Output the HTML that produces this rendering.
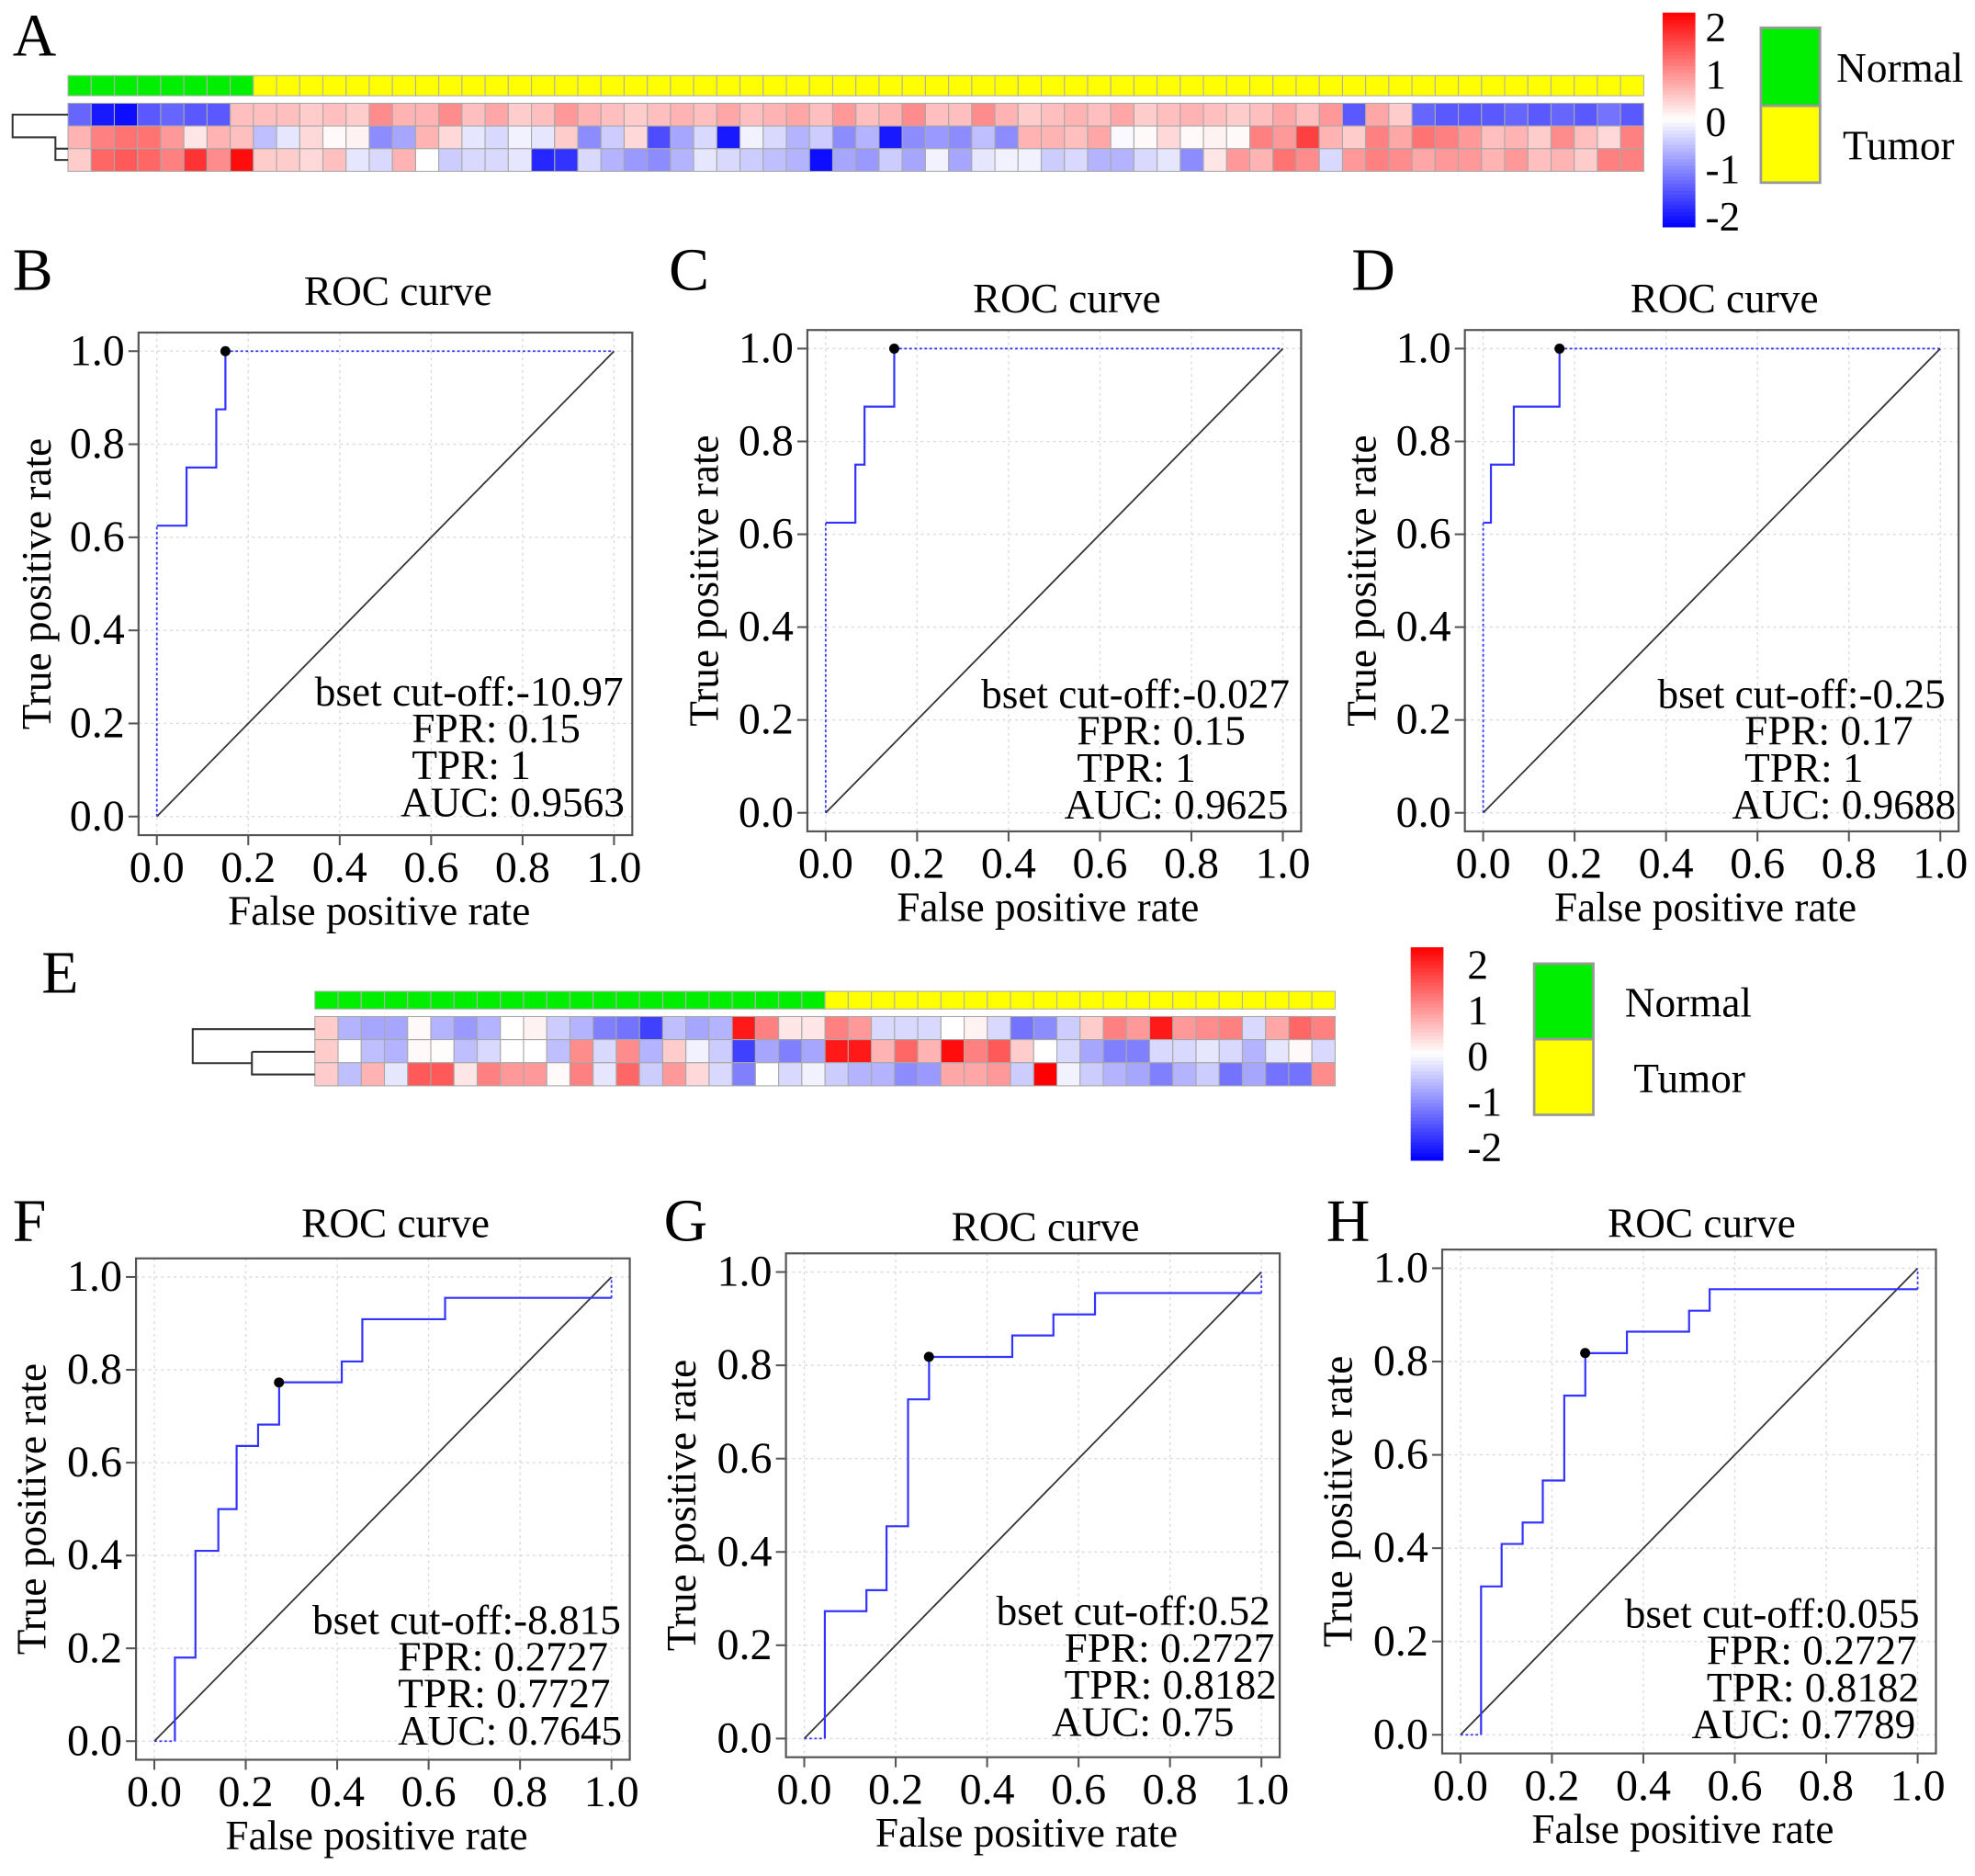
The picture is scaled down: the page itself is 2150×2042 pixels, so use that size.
<!DOCTYPE html>
<html><head><meta charset="utf-8"><style>
html,body{margin:0;padding:0;background:#fff;}
svg{display:block;font-family:"Liberation Serif",serif;}
</style></head><body>
<svg id="fig" width="2150" height="2042" viewBox="0 0 1568 1489.3" preserveAspectRatio="none" xmlns="http://www.w3.org/2000/svg"></svg>
<script>
// ---------- Heatmap data ----------
const groupsA = [8, 60]; // normal, tumor column counts
const rowA1 = [-1.2,-1.8,-1.9,-1.3,-1.2,-1.3,-1.3,0.5,
 0.5,0.5,0.4,0.5,0.4,0.9,0.6,0.6,0.9,0.5,0.7,0.4,0.5,0.8,0.6,0.5,0.4,0.5,0.6,0.5,0.7,0.5,0.6,0.7,0.5,0.8,0.5,0.6,0.9,0.5,0.5,0.9,0.6,0.4,0.5,0.6,0.5,0.7,0.4,0.5,0.6,0.5,0.4,0.5,0.7,0.5,0.8,-1.3,0.7,0.4,-1.2,-1.3,-1.3,-1.3,-1.2,-1.3,-1.2,-1.3,-1.1,-1.3];
const rowA2 = [0.6,1.0,1.1,1.1,0.8,0.2,0.6,0.5,
 -0.5,-0.2,0.3,0.05,0.1,-0.9,-0.7,0.6,0.3,-0.2,-0.3,-0.1,-0.2,0.4,-0.9,-0.4,0.3,-1.4,-0.7,-0.3,-1.8,-0.1,-0.3,-0.6,-0.4,-0.9,-0.6,-1.8,-0.9,-0.8,-0.9,-0.5,-0.9,0.6,0.6,0.5,0.7,-0.05,0.05,0.3,0.05,0.1,0.05,1.0,0.8,1.5,0.6,0.4,1.0,0.7,1.1,1.0,0.8,0.5,0.6,0.4,0.9,0.5,0.3,1.0];
const rowA3 = [0.4,1.2,1.3,1.2,1.0,1.6,0.9,1.9,
 0.4,0.4,0.3,0.5,-0.2,-0.3,0.6,0.0,-0.4,-0.3,-0.3,-0.2,-1.7,-1.6,-0.3,-0.6,-0.8,-0.9,-0.6,-0.2,-0.3,-0.4,-0.5,-0.6,-1.9,-0.7,-0.8,-0.4,-0.7,-0.1,-0.7,-0.2,-0.1,-0.1,-0.4,-0.3,-0.6,-0.6,-0.3,-0.2,-0.9,0.2,0.8,0.6,1.1,0.9,-0.3,0.8,1.0,0.9,0.7,0.8,0.8,0.6,0.8,0.5,0.6,0.4,1.0,1.0];
const groupsE = [22, 22];
const rowE1 = [0.4,-0.6,-0.7,-0.7,0.05,-0.6,-0.8,-0.6,0,0.1,-0.4,-0.6,-1.0,-1.1,-1.5,-0.5,-0.7,-0.6,1.8,1.0,0.2,0.2,
 1.0,0.8,-0.3,-0.3,-0.3,0,0.1,-0.3,-1.1,-0.9,-0.4,0.4,1.0,0.8,1.8,0.8,0.9,1.0,-0.3,0.7,1.2,1.0];
const rowE2 = [0.4,0,-0.5,-0.6,0.05,0.02,-0.5,-0.3,0,0,-0.5,0.9,-0.3,0.9,-0.6,0.4,-0.1,-0.4,-1.5,-0.7,-1.0,-0.7,
 1.8,1.8,0.6,1.2,0.6,1.9,1.0,1.3,0.4,0,-0.3,-0.7,-1.0,-1.0,-0.3,-0.3,-0.2,-0.3,-0.6,-0.2,0.05,-0.3];
const rowE3 = [0.4,-0.5,0.6,-0.2,1.3,1.3,0.2,1.0,0.8,0.8,0.05,1.0,-0.2,1.2,-0.4,0.8,0.3,-0.3,-1.0,0,-0.3,-0.1,
 -0.4,-0.6,-0.6,-0.9,-0.8,0.7,0.7,0.8,-0.4,2,-0.1,-0.4,-0.6,-0.7,-1.0,-0.6,-0.4,-1.1,-0.7,-1.1,-1.1,0.9];
const scaleTicks = [2, 1, 0, -1, -2];
const axisTicks = [0, 0.2, 0.4, 0.6, 0.8, 1.0];

// ---------- ROC data ----------
const fprB = [0,0,0.065,0.065,0.13,0.13,0.15,0.15,1];
const tprB = [0,0.625,0.625,0.75,0.75,0.875,0.875,1,1];
const fprC = [0,0,0.065,0.065,0.085,0.085,0.15,0.15,1];
const tprC = [0,0.625,0.625,0.75,0.75,0.875,0.875,1,1];
const fprD = [0,0,0.017,0.017,0.067,0.067,0.167,0.167,1];
const tprD = [0,0.625,0.625,0.75,0.75,0.875,0.875,1,1];
const fprF = [0,0.045,0.045,0.09,0.09,0.14,0.14,0.18,0.18,0.227,0.227,0.273,0.273,0.41,0.41,0.455,0.455,0.636,0.636,1,1];
const tprF = [0,0,0.18,0.18,0.41,0.41,0.5,0.5,0.636,0.636,0.682,0.682,0.773,0.773,0.818,0.818,0.909,0.909,0.955,0.955,1];
const fprG = [0,0.045,0.045,0.136,0.136,0.18,0.18,0.227,0.227,0.273,0.273,0.455,0.455,0.545,0.545,0.636,0.636,1,1];
const tprG = [0,0,0.273,0.273,0.318,0.318,0.455,0.455,0.727,0.727,0.818,0.818,0.864,0.864,0.909,0.909,0.955,0.955,1];
const fprH = [0,0.045,0.045,0.09,0.09,0.136,0.136,0.18,0.18,0.227,0.227,0.273,0.273,0.364,0.364,0.5,0.5,0.545,0.545,1,1];
const tprH = [0,0,0.318,0.318,0.409,0.409,0.455,0.455,0.545,0.545,0.727,0.727,0.818,0.818,0.864,0.864,0.909,0.909,0.955,0.955,1];
const cutFPR = [0.15,0.15,0.167,0.2727,0.2727,0.2727];
const cutTPR = [1,1,1,0.7727,0.8182,0.8182];
const annB = ["bset cut-off:-10.97","FPR: 0.15","TPR: 1","AUC: 0.9563"];
const annC = ["bset cut-off:-0.027","FPR: 0.15","TPR: 1","AUC: 0.9625"];
const annD = ["bset cut-off:-0.25","FPR: 0.17","TPR: 1","AUC: 0.9688"];
const annF = ["bset cut-off:-8.815","FPR: 0.2727","TPR: 0.7727","AUC: 0.7645"];
const annG = ["bset cut-off:0.52","FPR: 0.2727","TPR: 0.8182","AUC: 0.75"];
const annH = ["bset cut-off:0.055","FPR: 0.2727","TPR: 0.8182","AUC: 0.7789"];

const NS = "http://www.w3.org/2000/svg";
const svg = document.getElementById('fig');
function mk(tag, attrs, parent, text){
  const e = document.createElementNS(NS, tag);
  for (const k in attrs) e.setAttribute(k, attrs[k]);
  if (text !== undefined) e.textContent = text;
  (parent||svg).appendChild(e);
  return e;
}
function col(v){
  const t = Math.min(1, Math.abs(v)/2);
  const c = Math.round(255*(1-t));
  return v >= 0 ? `rgb(255,${c},${c})` : `rgb(${c},${c},255)`;
}

function heatmap(name, x0, x1, annY0, annY1, rowY0, rowY1, groups, rows, dend){
  const g = mk('g', {});
  
  
  const n = rows[0].length;
  const w = (x1-x0)/n;
  for (let i=0;i<n;i++){
    const r = mk('rect',{x:x0+i*w,y:annY0,width:w,height:annY1-annY0,fill:i<groups[0]?'#00ee00':'#ffff00',stroke:'#b0b0b0','stroke-width':0.8},g);
    
    
  }
  const h = (rowY1-rowY0)/rows.length;
  rows.forEach((row,ri)=>{
    row.forEach((v,i)=>{
      const r = mk('rect',{x:x0+i*w,y:rowY0+ri*h,width:w,height:h,fill:col(v),stroke:'#a8a8a8','stroke-width':0.8},g);
      
      
    });
  });
  const d = mk('path',{d:dend,fill:'none',stroke:'#333','stroke-width':1.5},g);
  
  
}
function colorScale(name, x, y0, y1, labX, inset){
  const g = mk('g',{});
  
  
  const steps = 60;
  const hh = (y1-y0)/steps;
  for (let i=0;i<steps;i++){
    const v = 2 - 4*(i+0.5)/steps;
    mk('rect',{x:x,y:y0+i*hh,width:26,height:hh+0.5,fill:col(v)},g);
  }
  const ly0 = y0+inset, ly1 = y1-inset+4;
  scaleTicks.forEach(t=>{
    const yy = ly0 + (2-t)/4*(ly1-ly0);
    const tx = mk('text',{x:labX,y:yy+11,'font-size':33},g,String(t));
    
    
  });
}
function legend(name, x, y0, y1, y2, lx1, lx2){
  const g = mk('g',{});
  
  
  mk('rect',{x:x,y:y0,width:47,height:y1-y0,fill:'#00ee00',stroke:'#999','stroke-width':2},g);
  mk('rect',{x:x,y:y1,width:47,height:y2-y1,fill:'#ffff00',stroke:'#999','stroke-width':2},g);
  const a = mk('text',{x:lx1,y:(y0+y1)/2+12,'font-size':33},g,'Normal');
  
  
  const b = mk('text',{x:lx2,y:(y1+y2)/2+12,'font-size':33},g,'Tumor');
  
  
}

// Panel A
const la = mk('text',{x:10,y:44,'font-size':48},svg,'A');
 
heatmap('heatmap-a',54,1305,60,76,82,136,groupsA,[rowA1,rowA2,rowA3],
  'M54,91 H10 V109 H44 V127 H54 M44,109 V118 H54');
colorScale('color-scale-a',1320,10,180,1354,12);
legend('legend-a',1398,22,84,145,1458,1463);

// Panel E
const le = mk('text',{x:33,y:788,'font-size':48},svg,'E');
 
heatmap('heatmap-e',250,1060,787,801,807,862,groupsE,[rowE1,rowE2,rowE3],
  'M250,817 H153 V844 H200 M200,835 V853 H250 M200,835 H250');
colorScale('color-scale-e',1120,752,921,1165,14);
legend('legend-e',1218,765,825,885,1290,1297);

// ROC panels
function roc(cfg){
  const g = mk('g',{});
  
  
  const [bx0,by0,bx1,by1] = cfg.box;
  const px0 = bx0 + 0.04*(bx1-bx0)/1.08, px1 = bx1 - 0.04*(bx1-bx0)/1.08;
  const py0 = by1 - 0.04*(by1-by0)/1.08, py1 = by0 + 0.04*(by1-by0)/1.08;
  const sx = v => px0 + v*(px1-px0);
  const sy = v => py0 - v*(py0-py1);
  axisTicks.forEach(t=>{
    mk('line',{x1:sx(t),x2:sx(t),y1:by0,y2:by1,stroke:'#d8d8d8','stroke-width':1,'stroke-dasharray':'2,3'},g);
    mk('line',{x1:bx0,x2:bx1,y1:sy(t),y2:sy(t),stroke:'#d8d8d8','stroke-width':1,'stroke-dasharray':'2,3'},g);
  });
  const dg = mk('line',{x1:sx(0),y1:sy(0),x2:sx(1),y2:sy(1),stroke:'#333','stroke-width':1.3},g);
   
  const n = cfg.fpr.length;
  const pts = cfg.fpr.map((f,i)=>sx(f)+','+sy(cfg.tpr[i]));
  const solidStart = cfg.dotStart, solidEnd = n-1-cfg.dotEnd;
  if (solidStart>0){
    mk('polyline',{points:pts.slice(0,solidStart+1).join(' '),fill:'none',stroke:'#3333ff','stroke-width':1.3,'stroke-dasharray':'2,2'},g);
  }
  const cv = mk('polyline',{points:pts.slice(solidStart,solidEnd+1).join(' '),fill:'none',stroke:'#3333ff','stroke-width':1.6},g);
   
  if (cfg.dotEnd>0){
    mk('polyline',{points:pts.slice(solidEnd).join(' '),fill:'none',stroke:'#3333ff','stroke-width':1.3,'stroke-dasharray':'2,2'},g);
  }
  const dot = mk('circle',{cx:sx(cutFPR[cfg.idx]),cy:sy(cutTPR[cfg.idx]),r:4,fill:'#000'},g);
   
  mk('rect',{x:bx0,y:by0,width:bx1-bx0,height:by1-by0,fill:'none',stroke:'#555','stroke-width':1.6},g);
  axisTicks.forEach(t=>{
    mk('line',{x1:sx(t),x2:sx(t),y1:by1,y2:by1+8,stroke:'#555','stroke-width':1.5},g);
    const xl = mk('text',{x:sx(t),y:by1+37,'font-size':35,'text-anchor':'middle'},g,t.toFixed(1));
     
    mk('line',{x1:bx0-8,x2:bx0,y1:sy(t),y2:sy(t),stroke:'#555','stroke-width':1.5},g);
    const yl = mk('text',{x:bx0-11,y:sy(t)+11,'font-size':35,'text-anchor':'end'},g,t.toFixed(1));
     
  });
  const tt = mk('text',{x:(bx0+bx1)/2+10,y:cfg.titleY,'font-size':33,'text-anchor':'middle'},g,'ROC curve');
   
  const xt = mk('text',{x:(bx0+bx1)/2-5,y:by1+71,'font-size':33,'text-anchor':'middle'},g,'False positive rate');
   
  const cy = (by0+by1)/2;
  const yt = mk('text',{x:cfg.ylabX,y:cy,'font-size':33,'text-anchor':'middle',transform:`rotate(-90 ${cfg.ylabX} ${cy})`},g,'True positive rate');
   
  cfg.ann.forEach((s,i)=>{
    const a = mk('text',{x:cfg.annX[i],y:cfg.annY+i*29.3,'font-size':33},g,s);
     
  });
  const pl = mk('text',{x:cfg.letter[0],y:cfg.letter[1],'font-size':48},g,cfg.L);
   
}
roc({name:'roc-b',L:'B',letter:[10,230],idx:0,box:[110,264,502,663],titleY:242,ylabX:40,fpr:fprB,tpr:tprB,dotStart:1,dotEnd:1,ann:annB,annX:[250,327,327,318],annY:560});
roc({name:'roc-c',L:'C',letter:[531,230],idx:1,box:[641,262,1033,660],titleY:248,ylabX:570,fpr:fprC,tpr:tprC,dotStart:1,dotEnd:1,ann:annC,annX:[779,855,855,845],annY:562});
roc({name:'roc-d',L:'D',letter:[1073,230],idx:2,box:[1163,262,1555,660],titleY:248,ylabX:1092,fpr:fprD,tpr:tprD,dotStart:1,dotEnd:1,ann:annD,annX:[1316,1385,1385,1375],annY:562});
roc({name:'roc-f',L:'F',letter:[10,985],idx:3,box:[108,999,500,1397],titleY:982,ylabX:36,fpr:fprF,tpr:tprF,dotStart:1,dotEnd:1,ann:annF,annX:[248,316,316,316],annY:1297});
roc({name:'roc-g',L:'G',letter:[527,985],idx:4,box:[624,995,1016,1395],titleY:985,ylabX:552,fpr:fprG,tpr:tprG,dotStart:1,dotEnd:1,ann:annG,annX:[791,845,845,835],annY:1290});
roc({name:'roc-h',L:'H',letter:[1053,985],idx:5,box:[1145,992,1537,1392],titleY:982,ylabX:1073,fpr:fprH,tpr:tprH,dotStart:1,dotEnd:1,ann:annH,annX:[1290,1355,1355,1343],annY:1292});
</script>
</body></html>
